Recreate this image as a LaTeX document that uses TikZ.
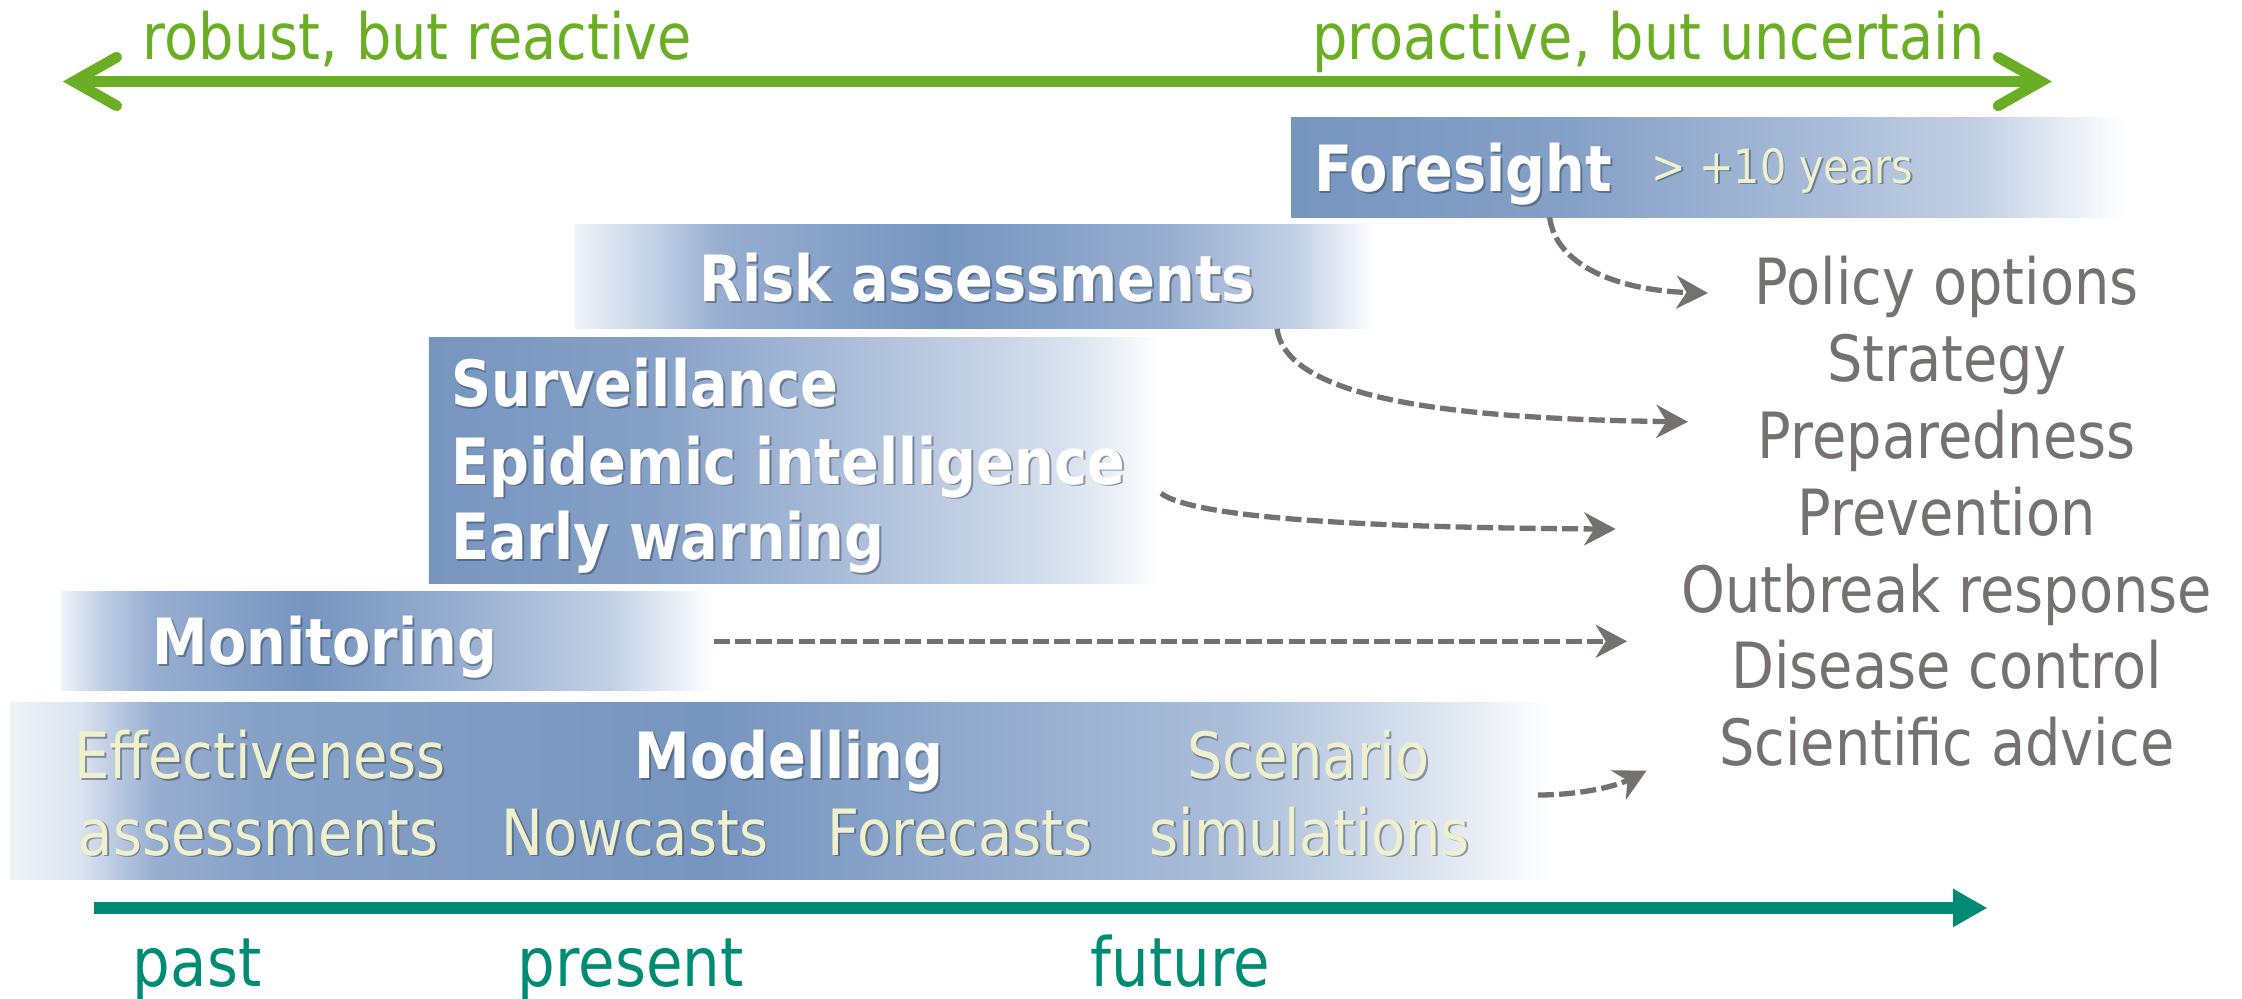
\documentclass[tikz,border=0pt]{standalone}
\usepackage{fontspec}
\setmainfont{DejaVu Sans}[FakeStretch=0.875]
\usetikzlibrary{arrows.meta,calc}

\definecolor{bdark}{HTML}{7695BF}
\definecolor{bA}{HTML}{86A1C7}
\definecolor{bB}{HTML}{97AED0}
\definecolor{bC}{HTML}{AABDD9}
\definecolor{bD}{HTML}{C2D0E4}
\definecolor{bE}{HTML}{DAE3EF}
\definecolor{bF}{HTML}{EFF3F8}
\definecolor{ecgreen}{HTML}{6AAF23}
\definecolor{ecteal}{HTML}{008C74}
\definecolor{tgray}{HTML}{767171}
\definecolor{pale}{HTML}{EEF1CC}
\definecolor{tshadow}{HTML}{34435A}

\pgfdeclarehorizontalshading{fsShade}{100bp}{color(0bp)=(bdark); color(25bp)=(bdark); color(42bp)=(bA); color(57.5bp)=(bC); color(66bp)=(bD); color(72.5bp)=(bF); color(75bp)=(white); color(100bp)=(white)}
\pgfdeclarehorizontalshading{raShade}{100bp}{color(0bp)=(bF); color(25bp)=(bF); color(30bp)=(bD); color(34bp)=(bB); color(48bp)=(bdark); color(62bp)=(bB); color(70bp)=(bD); color(75bp)=(white); color(100bp)=(white)}
\pgfdeclarehorizontalshading{svShade}{100bp}{color(0bp)=(bdark); color(25bp)=(bdark); color(40.5bp)=(bA); color(53.5bp)=(bC); color(62bp)=(bD); color(69bp)=(bE); color(75bp)=(white); color(100bp)=(white)}
\pgfdeclarehorizontalshading{moShade}{100bp}{color(0bp)=(bF); color(25bp)=(bF); color(28bp)=(bD); color(32bp)=(bB); color(43.75bp)=(bdark); color(55.5bp)=(bB); color(67bp)=(bD); color(75bp)=(white); color(100bp)=(white)}
\pgfdeclarehorizontalshading{mdShade}{100bp}{color(0bp)=(bF); color(25bp)=(bF); color(27.3bp)=(bE); color(29.7bp)=(bB); color(33bp)=(bA); color(47.8bp)=(bdark); color(57.8bp)=(bB); color(64.5bp)=(bC); color(71bp)=(bE); color(75bp)=(white); color(100bp)=(white)}

\newcommand{\shtxt}[4]{%
  \node[#2, text=tshadow, text opacity=0.5, xshift=1.3bp, yshift=-1.3bp] (#1-sh) at #3 {#4};
  \node[#2] (#1) at #3 {#4};}

\tikzset{
  lbl/.style={inner sep=0pt, outer sep=0pt, anchor=base, font=\fontsize{44.6bp}{53.6bp}\selectfont},
  lblb/.style={lbl, font=\fontsize{44.6bp}{53.6bp}\selectfont\bfseries},
  lbll/.style={lbl, font=\fontsize{47.5bp}{57bp}\selectfont},
  lbls/.style={lbl, font=\fontsize{33bp}{40bp}\selectfont},
  wt/.style={text=white},
  pl/.style={text=pale},
  box/.style={shade, draw=none, inner sep=0pt, outer sep=0pt},
  flow/.style={draw=tgray, line width=3.7bp, dash pattern=on 11.2bp off 3.7bp,
    -{Stealth[length=22bp,width=23bp,inset=7bp]}},
  axisg/.style={draw=ecgreen, line width=8bp,
    {Straight Barb[length=30bp,width=34bp,line width=7.5bp,line cap=round,line join=miter]}-{Straight Barb[length=30bp,width=34bp,line width=7.5bp,line cap=round,line join=miter]}},
  axist/.style={draw=ecteal, line width=8bp, -{Triangle[length=24bp,width=25bp]}},
}

\begin{document}
\begin{tikzpicture}[x=1bp, y=-1bp]
\useasboundingbox (0,0) rectangle (1568,698);

% top axis
\node[lbl, anchor=base west, text=ecgreen] (robust) at (100,41.5) {robust, but reactive};
\node[lbl, anchor=base east, text=ecgreen] (proact) at (1388,41.5) {proactive, but uncertain};
\coordinate (gL) at (44,57);
\coordinate (gR) at (1435,57);
\draw[axisg] (gL) -- (gR);

% boxes
\node[box, shading=fsShade, minimum width=585bp, minimum height=70bp] (fs) at (1195.5,117) {};
\node[box, shading=raShade, minimum width=560bp, minimum height=73bp] (ra) at (682,193.5) {};
\node[box, shading=svShade, minimum width=512bp, minimum height=172bp] (sv) at (556,322) {};
\node[box, shading=moShade, minimum width=456bp, minimum height=69bp] (mo) at (271,448.5) {};
\node[box, shading=mdShade, minimum width=1078bp, minimum height=124bp] (md) at (546,553) {};

% box texts
\shtxt{tfs}{lblb, wt, anchor=base west}{(919,134)}{Foresight}
\shtxt{tyr}{lbls, pl, anchor=base west}{(1155,128)}{> +10 years}
\shtxt{tra}{lblb, wt}{(683.5,211)}{Risk assessments}
\shtxt{tsv}{lblb, wt, anchor=base west}{(315.5,284.4)}{Surveillance}
\shtxt{tei}{lblb, wt, anchor=base west}{(315.5,338.5)}{Epidemic intelligence}
\shtxt{tew}{lblb, wt, anchor=base west}{(315.5,391.6)}{Early warning}
\shtxt{tmo}{lblb, wt, anchor=base west}{(107,465)}{Monitoring}
\shtxt{tmd}{lblb, wt}{(552,544.3)}{Modelling}
\shtxt{tef}{lbl, pl}{(182,544.3)}{Effectiveness}
\shtxt{tas}{lbl, pl}{(181,598)}{assessments}
\shtxt{tnc}{lbl, pl}{(444,598)}{Nowcasts}
\shtxt{tfc}{lbl, pl}{(671.5,598)}{Forecasts}
\shtxt{tsc}{lbl, pl}{(915,544.3)}{Scenario}
\shtxt{tsi}{lbl, pl}{(916,598)}{simulations}

% right list
\node[lbl, text=tgray] (r1) at (1361.5,213) {Policy options};
\node[lbl, text=tgray] (r2) at (1361.5,267) {Strategy};
\node[lbl, text=tgray] (r3) at (1361.5,320.7) {Preparedness};
\node[lbl, text=tgray] (r4) at (1361.5,374.6) {Prevention};
\node[lbl, text=tgray] (r5) at (1361.5,428.3) {Outbreak response};
\node[lbl, text=tgray] (r6) at (1361.5,481.8) {Disease control};
\node[lbl, text=tgray] (r7) at (1361.5,535.5) {Scientific advice};

% dashed connectors
\coordinate (e1) at (1194.5,205);
\coordinate (e2) at (1180.5,295);
\coordinate (e3) at (1130,370);
\coordinate (e4) at (1138,448.5);
\coordinate (e5) at (1151.5,539);
\draw[flow] ($(fs.south west)!0.309!(fs.south east)$) .. controls (1088,185) and (1130,203) .. (e1);
\draw[flow] ($(ra.south west)!0.877!(ra.south east)$) .. controls (900,280) and (1020,293) .. (e2);
\draw[flow] ($(sv.north east)!0.634!(sv.south east)$) .. controls (835,362) and (950,369) .. (e3);
\draw[flow] (mo.east) -- (e4);
\draw[flow] ($(md.east)+(-9.5,3)$) .. controls (1105,556) and (1130,550) .. (e5);

% bottom axis
\coordinate (tL) at (66,635);
\coordinate (tR) at (1390,635);
\draw[axist] (tL) -- (tR);
\node[lbll, anchor=base west, text=ecteal] (past) at (93,689.6) {past};
\node[lbll, anchor=base west, text=ecteal] (present) at (362,689.6) {present};
\node[lbll, anchor=base west, text=ecteal] (future) at (763,689.6) {future};
\end{tikzpicture}
\end{document}
